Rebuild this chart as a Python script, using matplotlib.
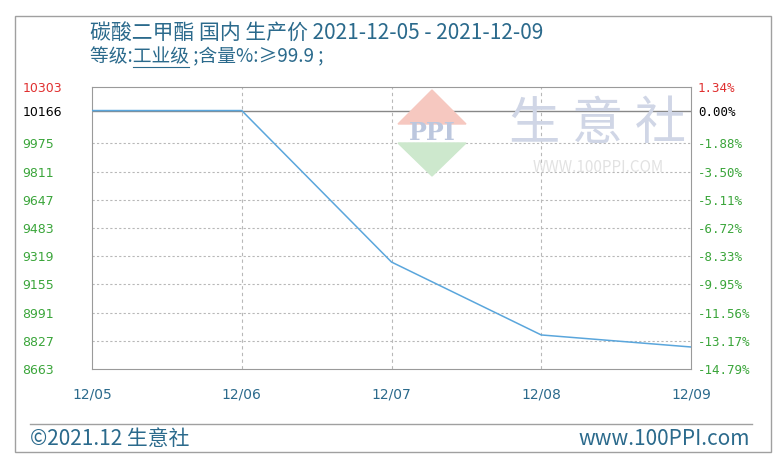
import matplotlib.pyplot as plt
from matplotlib.patches import Rectangle, Polygon

plt.rcParams['font.family'] = ['Noto Sans CJK SC', 'DejaVu Sans']

dates = ['12/05', '12/06', '12/07', '12/08', '12/09']
prices = [10166, 10166, 9285, 8861, 8791]
left_ticks = [10303, 10166, 9975, 9811, 9647, 9483, 9319, 9155, 8991, 8827, 8663]
right_labels = ['1.34%', '0.00%', '-1.88%', '-3.50%', '-5.11%', '-6.72%',
                '-8.33%', '-9.95%', '-11.56%', '-13.17%', '-14.79%']
base = 10166

W, H = 775, 462
fig = plt.figure(figsize=(7.75, 4.62), dpi=100)
fig.patch.set_facecolor('white')

def fx(px):
    return px / W

def fy(py):
    return 1 - py / H

# outer frame and footer separator
fig.patches.append(Rectangle((fx(15), fy(452)), fx(756), 436 / H, transform=fig.transFigure,
                             fill=False, edgecolor='#a0a0a0', lw=1))
fig.add_artist(plt.Line2D([fx(30), fx(752)], [fy(424), fy(424)], color='#a0a0a0', lw=1))

ax = fig.add_axes([fx(92), fy(369), fx(691 - 92), (369 - 87) / H])
xs = list(range(len(dates)))

# watermark
logo = [(fx(432), fy(90)), (fx(466), fy(124)), (fx(398), fy(124))]
fig.patches.append(Polygon(logo, closed=True, transform=fig.transFigure, color='#f6c8c0', zorder=0))
logo2 = [(fx(398), fy(143)), (fx(466), fy(143)), (fx(432), fy(176))]
fig.patches.append(Polygon(logo2, closed=True, transform=fig.transFigure, color='#cde8cd', zorder=0))
fig.text(fx(432), fy(133), 'PPI', ha='center', va='center', fontsize=17, color='#bcc7de',
         fontweight='bold', family='DejaVu Serif', zorder=1)
fig.text(fx(598), fy(124), '生 意 社', ha='center', va='center', fontsize=37, color='#d0d6e6', zorder=1)
fig.text(fx(598), fy(168), 'WWW.100PPI.COM', ha='center', va='center', fontsize=11,
         color='#e2e2e2', zorder=1)
ax.patch.set_alpha(0)

ax.set_xlim(0, len(dates) - 1)
ax.set_ylim(left_ticks[-1], left_ticks[0])
for v in left_ticks[2:-1]:
    ax.axhline(v, color='#b8b8b8', lw=0.8, ls=(0, (2, 2)))
for x in xs[1:-1]:
    ax.axvline(x, color='#b8b8b8', lw=0.8, ls=(0, (3, 3)))
ax.axhline(base, color='#888888', lw=1)
ax.plot(xs, prices, color='#5aa6dc', lw=1.1, zorder=3)

for s in ax.spines.values():
    s.set_color('#9a9a9a')
ax.tick_params(length=0)
ax.set_xticks(xs)
ax.set_xticklabels(dates, color='#2b6a8c', fontsize=10, family='DejaVu Sans')
ax.tick_params(axis='x', pad=13)
ax.set_yticks(left_ticks)
ax.set_yticklabels([str(v) for v in left_ticks], fontsize=9, family='DejaVu Sans', ha='left')
ax.tick_params(axis='y', pad=50)
for i, t in enumerate(ax.get_yticklabels()):
    t.set_color('#e03030' if i == 0 else ('black' if i == 1 else '#3aa53a'))

ax2 = ax.twinx()
ax2.set_ylim(ax.get_ylim())
ax2.set_yticks(left_ticks)
ax2.set_yticklabels(right_labels, fontsize=9, family='DejaVu Sans Mono')
ax2.tick_params(length=0, pad=5)
for s in ax2.spines.values():
    s.set_visible(False)
for i, t in enumerate(ax2.get_yticklabels()):
    t.set_color('#e03030' if i == 0 else ('black' if i == 1 else '#3aa53a'))

# titles
fig.text(fx(90), fy(33), '碳酸二甲酯 国内 生产价 2021-12-05 - 2021-12-09', fontsize=15,
         color='#2b6a8c', va='center')
sub = fig.text(fx(90), fy(57), '等级:工业级 ;含量%:≥99.9 ;', fontsize=13.5, color='#2b6a8c', va='center')
r = fig.canvas.get_renderer()
pre = fig.text(fx(90), fy(57), '等级:', fontsize=13.5, alpha=0)
mid = fig.text(fx(90), fy(57), '等级:工业级', fontsize=13.5, alpha=0)
x0 = pre.get_window_extent(r).x1 / W
x1 = mid.get_window_extent(r).x1 / W
fig.add_artist(plt.Line2D([x0, x1], [fy(67), fy(67)], color='#2b6a8c', lw=0.8))

# footer
fig.text(fx(30), fy(439), '©2021.12 生意社', fontsize=15, color='#2b6a8c', va='center')
fig.text(fx(750), fy(439), 'www.100PPI.com', fontsize=15, color='#2b6a8c', va='center', ha='right')

fig.savefig('out.png', dpi=100)
